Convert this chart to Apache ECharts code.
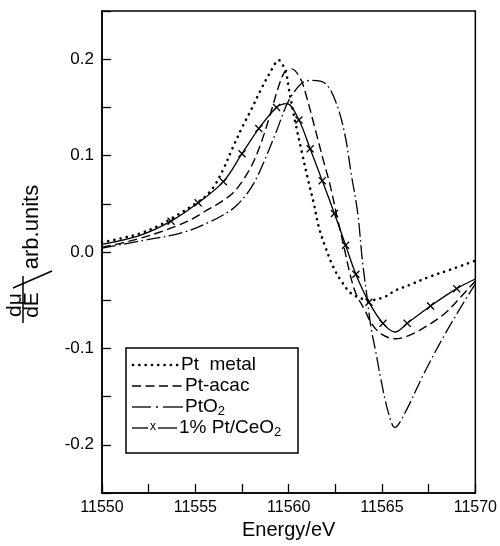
<!DOCTYPE html>
<html><head><meta charset="utf-8">
<script src="https://cdn.jsdelivr.net/npm/echarts@6/dist/echarts.min.js"></script>
<style>html,body{margin:0;padding:0;background:#fff}#c{width:500px;height:546px}</style>
</head><body><div id="c"></div>
<script>
// ---- data ----
const ptMetalE  = [11550,11551,11552,11553,11554,11555,11555.5,11556,11556.5,11557,11557.5,11558,11558.5,11559,11559.47,11559.85,11560,11560.35,11560.7,11561.05,11561.35,11561.6,11561.95,11562.4,11562.85,11563.35,11564,11564.4,11565.2,11565.7,11566.5,11567.5,11568.7,11570];
const ptMetalMu = [0.010,0.014,0.019,0.027,0.038,0.050,0.057,0.068,0.086,0.108,0.129,0.148,0.168,0.186,0.199,0.186,0.170,0.135,0.104,0.074,0.050,0.027,0.006,-0.016,-0.031,-0.043,-0.049,-0.050,-0.046,-0.040,-0.034,-0.026,-0.018,-0.009];

const ptAcacE  = [11550,11551,11552,11553,11554,11554.8,11555.5,11556.3,11557,11557.5,11558,11558.5,11559,11559.5,11559.8,11560.15,11560.6,11560.9,11561.4,11561.9,11562.2,11562.6,11563,11563.3,11563.6,11564.1,11564.4,11564.95,11565.7,11566.4,11567.3,11568.35,11569.2,11570];
const ptAcacMu = [0.005,0.009,0.014,0.020,0.027,0.034,0.042,0.051,0.061,0.073,0.089,0.112,0.142,0.174,0.187,0.190,0.181,0.165,0.129,0.092,0.071,0.036,0.002,-0.024,-0.043,-0.061,-0.073,-0.085,-0.090,-0.087,-0.078,-0.064,-0.047,-0.030];

const ptO2E  = [11550,11552.5,11554.3,11555.75,11556.8,11557.25,11557.75,11558.15,11558.55,11559.3,11560,11560.7,11561.2,11561.95,11562.5,11563,11563.35,11563.7,11563.95,11564.2,11564.4,11564.68,11564.95,11565.32,11565.69,11566.2,11567.3,11568.35,11569.2,11570];
const ptO2Mu = [0.004,0.013,0.020,0.031,0.042,0.049,0.060,0.072,0.088,0.123,0.157,0.175,0.178,0.175,0.157,0.123,0.081,0.040,-0.009,-0.047,-0.077,-0.105,-0.133,-0.165,-0.182,-0.168,-0.124,-0.086,-0.058,-0.033];

const ceo2E    = [11550,11552,11553.7,11555.15,11556.5,11557.5,11558.4,11559.35,11559.9,11560.55,11561.15,11561.8,11562.45,11563.05,11563.6,11564.3,11565.05,11565.7,11566.35,11567.6,11569,11570];
const ceo2Mu   = [0.008,0.017,0.032,0.051,0.073,0.102,0.128,0.150,0.154,0.137,0.107,0.074,0.040,0.007,-0.023,-0.052,-0.074,-0.083,-0.074,-0.056,-0.038,-0.028];
const ceo2Mark = [0,0,1,1,1,1,1,1,0,1,1,1,1,1,1,1,1,0,1,1,1,0];

const xTicks = [11550,11555,11560,11565,11570];
const yTicks = [-0.2,-0.1,0.0,0.1,0.2];

// ---- chart ----
const FONT = 'Liberation Sans, Arial, sans-serif';
const cross = 'path://M1.2,0L5,3.8L8.8,0L10,1.2L6.2,5L10,8.8L8.8,10L5,6.2L1.2,10L0,8.8L3.8,5L0,1.2Z';
const pair = (xs, ys) => xs.map((x, i) => [x, ys[i]]);

const chart = echarts.init(document.getElementById('c'), null, {renderer: 'canvas'});

const tickStyle = {show: true, inside: true, length: 9, lineStyle: {color: '#000', width: 1.3}};

const option = {
  animation: false,
  backgroundColor: '#fff',
  grid: {left: 102, right: 22, top: 11, bottom: 53, show: true, borderColor: '#000', borderWidth: 1.5, backgroundColor: 'transparent'},
  xAxis: {
    type: 'value', min: 11550, max: 11570, interval: 2.5,
    axisLine: {show: true, onZero: false, lineStyle: {color: '#000', width: 1.5}},
    axisTick: tickStyle,
    splitLine: {show: false},
    axisLabel: {
      color: '#000', fontSize: 16, fontFamily: FONT, margin: 7,
      formatter: v => xTicks.some(t => Math.abs(t - v) < 1e-6) ? String(v) : ''
    },
    name: 'Energy/eV', nameLocation: 'middle', nameGap: 22,
    nameTextStyle: {color: '#000', fontSize: 20, fontFamily: FONT}
  },
  yAxis: {
    type: 'value', min: -0.25, max: 0.25, interval: 0.05,
    axisLine: {show: true, onZero: false, lineStyle: {color: '#000', width: 1.5}},
    axisTick: tickStyle,
    splitLine: {show: false},
    axisLabel: {
      color: '#000', fontSize: 17, fontFamily: FONT, margin: 8,
      formatter: v => {
        const t = yTicks.find(t => Math.abs(t - v) < 1e-6);
        return t === undefined ? '' : (Math.abs(t) < 1e-9 ? '0.0' : t.toFixed(1));
      }
    }
  },
  series: [
    {
      name: 'Pt metal', type: 'line', data: pair(ptMetalE, ptMetalMu),
      smooth: 0.35, symbol: 'none', silent: true,
      lineStyle: {color: '#000', width: 2.6, type: [0.1, 6.2], cap: 'round'}
    },
    {
      name: 'Pt-acac', type: 'line', data: pair(ptAcacE, ptAcacMu),
      smooth: 0.35, symbol: 'none', silent: true,
      lineStyle: {color: '#000', width: 1.4, type: [9, 4.5]}
    },
    {
      name: 'PtO2', type: 'line', data: pair(ptO2E, ptO2Mu),
      smooth: 0.35, symbol: 'none', silent: true,
      lineStyle: {color: '#000', width: 1.3, type: [14, 3.5, 1.6, 3.5]}
    },
    {
      name: '1% Pt/CeO2', type: 'line',
      data: ceo2E.map((x, i) => ({value: [x, ceo2Mu[i]], symbol: ceo2Mark[i] ? cross : 'none'})),
      smooth: 0.35, showSymbol: true, showAllSymbol: true, symbolSize: 8, silent: true,
      itemStyle: {color: '#000'},
      lineStyle: {color: '#000', width: 1.3}
    }
  ],
  graphic: [
    // y-axis title: d\u03bc/dE / arb.units (rotated)
    {type: 'text', x: 15, y: 305, rotation: Math.PI / 2, silent: true,
      style: {text: 'd\u03bc', fontSize: 21, fontFamily: FONT, fill: '#000', align: 'center', verticalAlign: 'middle', textAlign: 'center', textVerticalAlign: 'middle'}},
    {type: 'line', silent: true, shape: {x1: 23, y1: 276, x2: 23, y2: 323}, style: {stroke: '#000', lineWidth: 1.5}},
    {type: 'text', x: 32, y: 305, rotation: Math.PI / 2, silent: true,
      style: {text: 'dE', fontSize: 21, fontFamily: FONT, fill: '#000', align: 'center', verticalAlign: 'middle', textAlign: 'center', textVerticalAlign: 'middle'}},
    {type: 'line', silent: true, shape: {x1: 13, y1: 288, x2: 52, y2: 271}, style: {stroke: '#000', lineWidth: 1.6}},
    {type: 'text', x: 32, y: 227, rotation: Math.PI / 2, silent: true,
      style: {text: 'arb.units', fontSize: 22, fontFamily: FONT, fill: '#000', align: 'center', verticalAlign: 'middle', textAlign: 'center', textVerticalAlign: 'middle'}},

    // legend box
    {type: 'rect', silent: true, shape: {x: 126, y: 348, width: 172, height: 105}, style: {fill: '#fff', stroke: '#000', lineWidth: 1.5}, z: 10},
    // row 1: dotted
    {type: 'line', silent: true, z: 11, shape: {x1: 133, y1: 365, x2: 178, y2: 365}, style: {stroke: '#000', lineWidth: 2.6, lineDash: [0.1, 6.2], lineCap: 'round'}},
    {type: 'text', silent: true, z: 11, x: 181, y: 365, style: {text: 'Pt  metal', fontSize: 19, fontFamily: FONT, fill: '#000', verticalAlign: 'middle', textVerticalAlign: 'middle'}},
    // row 2: dashed
    {type: 'line', silent: true, z: 11, shape: {x1: 132, y1: 386, x2: 183, y2: 386}, style: {stroke: '#000', lineWidth: 1.4, lineDash: [9, 4.5]}},
    {type: 'text', silent: true, z: 11, x: 185, y: 386, style: {text: 'Pt-acac', fontSize: 19, fontFamily: FONT, fill: '#000', verticalAlign: 'middle', textVerticalAlign: 'middle'}},
    // row 3: dash-dot
    {type: 'line', silent: true, z: 11, shape: {x1: 132, y1: 407, x2: 151, y2: 407}, style: {stroke: '#000', lineWidth: 1.3}},
    {type: 'line', silent: true, z: 11, shape: {x1: 156, y1: 407, x2: 158, y2: 407}, style: {stroke: '#000', lineWidth: 1.5}},
    {type: 'line', silent: true, z: 11, shape: {x1: 163, y1: 407, x2: 183, y2: 407}, style: {stroke: '#000', lineWidth: 1.3}},
    {type: 'text', silent: true, z: 11, x: 185, y: 407, style: {text: '{a|PtO}{s|2}', fontFamily: FONT, fill: '#000', verticalAlign: 'middle', textVerticalAlign: 'middle',
      rich: {a: {fontSize: 19, lineHeight: 22, fontFamily: FONT}, s: {fontSize: 13, lineHeight: 12, verticalAlign: 'bottom', fontFamily: FONT}}}},
    // row 4: solid with x
    {type: 'line', silent: true, z: 11, shape: {x1: 132, y1: 428, x2: 148, y2: 428}, style: {stroke: '#000', lineWidth: 1.3}},
    {type: 'text', silent: true, z: 11, x: 153, y: 427, style: {text: 'x', fontSize: 12, fontFamily: FONT, fill: '#000', align: 'center', verticalAlign: 'middle', textAlign: 'center', textVerticalAlign: 'middle'}},
    {type: 'line', silent: true, z: 11, shape: {x1: 158, y1: 428, x2: 177, y2: 428}, style: {stroke: '#000', lineWidth: 1.3}},
    {type: 'text', silent: true, z: 11, x: 179, y: 428, style: {text: '{a|1% Pt/CeO}{s|2}', fontFamily: FONT, fill: '#000', verticalAlign: 'middle', textVerticalAlign: 'middle',
      rich: {a: {fontSize: 19, lineHeight: 22, fontFamily: FONT}, s: {fontSize: 13, lineHeight: 12, verticalAlign: 'bottom', fontFamily: FONT}}}}
  ]
};
chart.setOption(option);
</script>
</body></html>
